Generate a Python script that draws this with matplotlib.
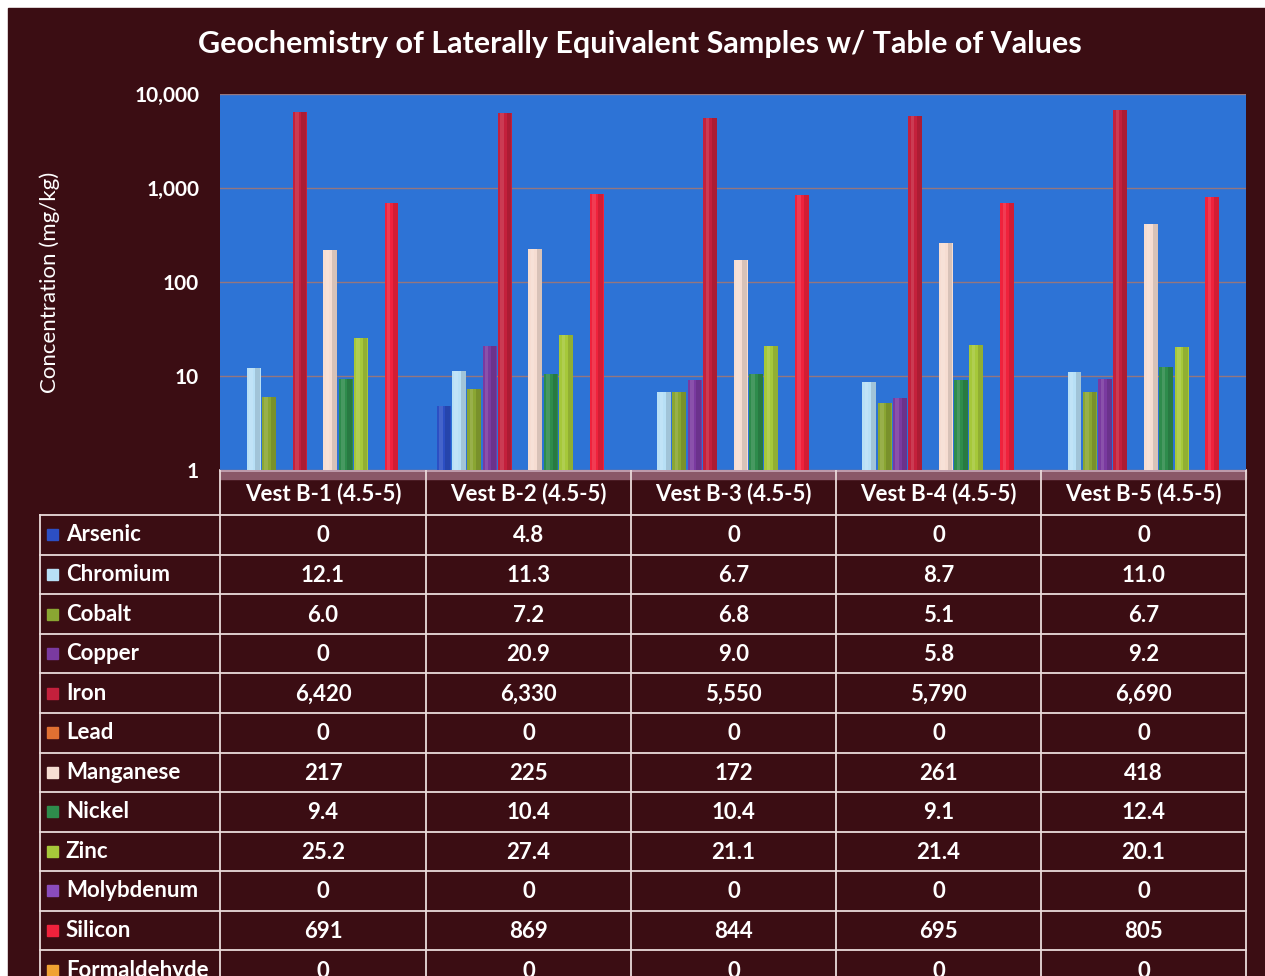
import matplotlib.pyplot as plt
from matplotlib.patches import Rectangle
import matplotlib.ticker as mticker
import numpy as np

plt.rcParams['font.family'] = ['Lato', 'DejaVu Sans']

samples = ['Vest B-1 (4.5-5)', 'Vest B-2 (4.5-5)', 'Vest B-3 (4.5-5)',
           'Vest B-4 (4.5-5)', 'Vest B-5 (4.5-5)']
elements = ['Arsenic', 'Chromium', 'Cobalt', 'Copper', 'Iron', 'Lead',
            'Manganese', 'Nickel', 'Zinc', 'Molybdenum', 'Silicon', 'Formaldehyde']
arsenic = [0, 4.8, 0, 0, 0]
chromium = [12.1, 11.3, 6.7, 8.7, 11.0]
cobalt = [6.0, 7.2, 6.8, 5.1, 6.7]
copper = [0, 20.9, 9.0, 5.8, 9.2]
iron = [6420, 6330, 5550, 5790, 6690]
lead = [0, 0, 0, 0, 0]
manganese = [217, 225, 172, 261, 418]
nickel = [9.4, 10.4, 10.4, 9.1, 12.4]
zinc = [25.2, 27.4, 21.1, 21.4, 20.1]
molybdenum = [0, 0, 0, 0, 0]
silicon = [691, 869, 844, 695, 805]
formaldehyde = [0, 0, 0, 0, 0]
series = [arsenic, chromium, cobalt, copper, iron, lead, manganese, nickel,
          zinc, molybdenum, silicon, formaldehyde]
colors = ['#2c4fc4', '#b8e0f6', '#8aa632', '#7a3aa0', '#c4203c', '#e07032',
          '#f6ddd2', '#2e8c4c', '#a6c83a', '#8a4cbc', '#f0223c', '#f0a232']

bg = '#3b0d13'
W, H = 1265, 976

def fmt(v):
    if v == 0:
        return '0'
    if v >= 1000:
        return '{:,.0f}'.format(v)
    if v >= 100:
        return '{:.0f}'.format(v)
    return '{:.1f}'.format(v)

fig = plt.figure(figsize=(W / 100, H / 100), dpi=100, facecolor='white')

# canvas for background + table (pixel coords)
cv = fig.add_axes([0, 0, 1, 1], zorder=0)
cv.set_xlim(0, W)
cv.set_ylim(H, 0)
cv.axis('off')
cv.add_patch(Rectangle((8, 8), W, H, color=bg))

# chart area
left, right, top, bottom = 220, 1246, 94, 470
ax = fig.add_axes([left / W, 1 - bottom / H, (right - left) / W, (bottom - top) / H], zorder=1)
ax.set_facecolor('#2d73d6')
ax.set_yscale('log')
ax.set_ylim(1, 10000)
ax.set_xlim(-0.5, len(samples) - 0.5)

step = 0.0746
bw = 0.068
x = np.arange(len(samples))
for k, (vals, c) in enumerate(zip(series, colors)):
    v = np.array(vals, dtype=float)
    v[v == 0] = np.nan
    xs = x + (k - 5.5) * step
    ax.bar(xs, v, width=bw, color=c, edgecolor='none', zorder=3)
    # shading for a rounded look
    ax.bar(xs + bw * 0.3, v, width=bw * 0.35, color='black', alpha=0.12, edgecolor='none', zorder=4)
    ax.bar(xs - bw * 0.2, v, width=bw * 0.25, color='white', alpha=0.12, edgecolor='none', zorder=4)

ax.yaxis.grid(True, which='major', color='#b07868', lw=1, alpha=0.8)
ax.set_axisbelow(True)
ax.yaxis.set_major_locator(mticker.FixedLocator([1, 10, 100, 1000, 10000]))
ax.yaxis.set_minor_locator(mticker.NullLocator())
ax.yaxis.set_major_formatter(mticker.FuncFormatter(lambda v, p: '{:,.0f}'.format(v)))
ax.tick_params(axis='y', length=0, pad=15, labelcolor='white', labelsize=15)
for t in ax.get_yticklabels():
    t.set_fontweight('bold')
ax.set_xticks([])
for s in ax.spines.values():
    s.set_visible(False)
ax.set_ylabel('Concentration (mg/kg)', color='white', fontsize=16)
ax.yaxis.set_label_coords(-(left - 60) / (right - left), 0.5)

fig.text(640 / W, 1 - 44 / H, 'Geochemistry of Laterally Equivalent Samples w/ Table of Values',
         ha='center', va='center', color='white', fontsize=22, fontweight='bold')

# floor band under the bars
cv.add_patch(Rectangle((left, bottom), right - left, 9, color='#8a5868', zorder=2))
cv.plot([left, right], [bottom + 0.5, bottom + 0.5], color='#c8a8b8', lw=1.2, zorder=3)

# table
col_edges = [220, 426, 631, 836, 1041, 1246]
row_h = 39.55
row0 = 515.2
line_c = '#eadada'
fs = 16
for xe in col_edges:
    cv.plot([xe, xe], [bottom, H], color=line_c, lw=1.3, zorder=3)
cv.plot([40, 40], [row0, H], color=line_c, lw=1.3, zorder=3)
for i in range(len(elements)):
    y = row0 + i * row_h
    cv.plot([40, 1246], [y, y], color=line_c, lw=1.3, zorder=3)

for j, s in enumerate(samples):
    xc = (col_edges[j] + col_edges[j + 1]) / 2
    cv.text(xc, 494, s, ha='center', va='center', color='white', fontsize=16, fontweight='bold', zorder=4)

for i, (name, vals, c) in enumerate(zip(elements, series, colors)):
    yc = row0 + (i + 0.5) * row_h
    cv.add_patch(Rectangle((47, yc - 5.5), 11, 11, color=c, zorder=4))
    cv.text(66, yc, name, ha='left', va='center', color='white', fontsize=fs, fontweight='bold', zorder=4)
    for j, v in enumerate(vals):
        xc = (col_edges[j] + col_edges[j + 1]) / 2
        cv.text(xc, yc + 1, fmt(v), ha='center', va='center', color='white', fontsize=fs, fontweight='bold', zorder=4)

fig.savefig('out.png', dpi=100, facecolor=fig.get_facecolor())
